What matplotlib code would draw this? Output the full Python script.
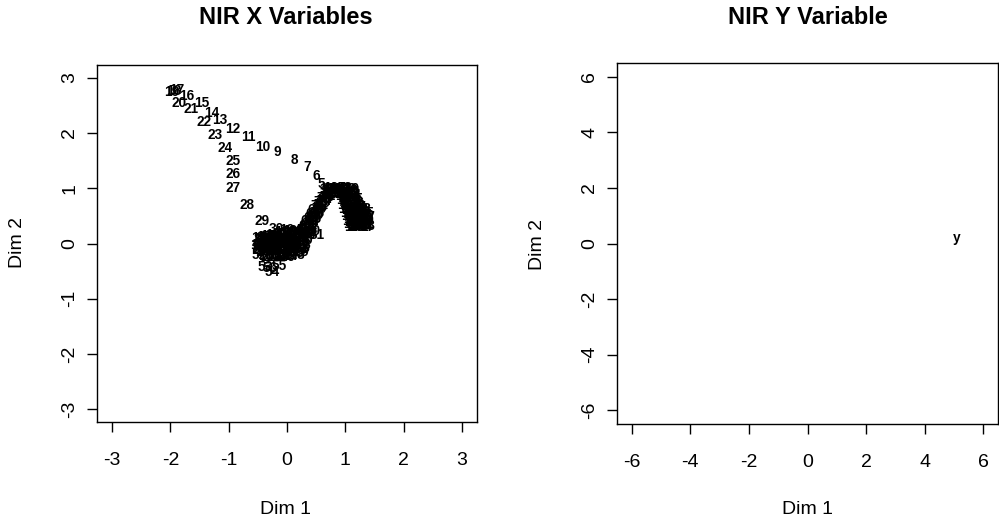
import matplotlib
matplotlib.use('Agg')
import matplotlib.pyplot as plt

plt.rcParams['font.family'] = ['Liberation Sans', 'DejaVu Sans']
plt.rcParams['axes.unicode_minus'] = False

# ---- data: variable coordinates on Dim 1 / Dim 2 ----
# 1..56 : arc start, the long visible trail, left lower blob, bottom stragglers
path_x = [0.95, 0.86, 0.77, 0.68, 0.59, 0.50, 0.34, 0.125, -0.16, -0.41,
          -0.66, -0.93, -1.15, -1.29, -1.46, -1.72, -1.90, -1.95, -1.97, -1.86,
          -1.65, -1.43, -1.24, -1.07, -0.93, -0.93, -0.92, -0.69, -0.42, -0.19,
          -0.12, -0.20, -0.28, -0.36, -0.44, -0.40, -0.32, -0.24, -0.16, -0.08,
          0.00, 0.04, -0.04, -0.12, -0.20, -0.28, -0.36, -0.44, -0.48, -0.46,
          -0.40, -0.48, -0.38, -0.25, -0.14, -0.28]
path_y = [0.97, 0.98, 0.99, 1.00, 1.07, 1.22, 1.38, 1.52, 1.66, 1.75,
          1.93, 2.08, 2.23, 2.37, 2.54, 2.66, 2.77, 2.76, 2.74, 2.55,
          2.43, 2.20, 1.97, 1.72, 1.50, 1.25, 1.01, 0.69, 0.41, 0.26,
          0.18, 0.14, 0.12, 0.10, 0.08, 0.02, 0.04, 0.06, 0.08, 0.10,
          0.12, 0.04, 0.00, -0.02, -0.03, -0.04, -0.05, -0.06, 0.00, -0.10,
          -0.14, -0.20, -0.43, -0.51, -0.41, -0.45]

# rising band
band_x = [0.22, 0.28, 0.30, 0.36, 0.33, 0.39, 0.37, 0.43, 0.41, 0.47,
          0.45, 0.51, 0.49, 0.54, 0.53, 0.59, 0.58, 0.64, 0.63, 0.69,
          0.68, 0.74, 0.72, 0.44, 0.52, 0.40, 0.35, 0.41, 0.46, 0.50,
          0.55, 0.57, 0.62, 0.66, 0.71, 0.76, 0.31, 0.26, 0.36]
band_y = [0.14, 0.16, 0.24, 0.26, 0.32, 0.34, 0.40, 0.42, 0.47, 0.49,
          0.54, 0.56, 0.61, 0.63, 0.68, 0.70, 0.75, 0.77, 0.82, 0.84,
          0.89, 0.90, 0.95, 0.22, 0.15, 0.20, 0.29, 0.37, 0.44, 0.52,
          0.59, 0.66, 0.73, 0.80, 0.86, 0.93, 0.19, 0.10, 0.16]

# top of the arch
arc_x = [0.78, 0.84, 0.90, 0.96, 1.02, 1.07, 0.80, 0.87, 0.94, 1.00,
         0.74, 0.82, 0.92, 0.98, 1.05, 0.76, 1.06]
arc_y = [0.96, 0.97, 0.97, 0.97, 0.96, 0.94, 0.90, 0.91, 0.91, 0.90,
         0.99, 1.00, 1.00, 0.99, 0.98, 0.92, 0.90]

# descending leg and right blob
right_x = [1.02, 1.06, 1.03, 1.08, 1.05, 1.10, 1.07, 1.13, 1.10, 1.16,
           1.12, 1.20, 1.26, 1.28, 1.22, 1.15, 1.18, 1.25, 1.30, 1.22,
           1.18, 1.26, 1.29, 1.23, 1.17, 1.20, 1.14, 1.30, 1.27, 1.21,
           1.04, 1.08, 1.10, 1.12, 1.16, 1.24, 1.14, 1.19, 1.25, 1.20,
           1.14, 1.16, 1.24, 1.28, 1.32, 1.31, 1.23, 1.19]
right_y = [0.86, 0.82, 0.78, 0.74, 0.70, 0.67, 0.63, 0.60, 0.56, 0.54,
           0.50, 0.50, 0.52, 0.46, 0.44, 0.45, 0.39, 0.40, 0.36, 0.34,
           0.30, 0.30, 0.55, 0.57, 0.58, 0.63, 0.70, 0.42, 0.34, 0.29,
           0.90, 0.88, 0.80, 0.74, 0.66, 0.62, 0.62, 0.55, 0.48, 0.47,
           0.40, 0.35, 0.36, 0.40, 0.48, 0.31, 0.31, 0.42]

# later variables falling back into the lower blob
low_x = [-0.38, -0.30, -0.22, -0.14, -0.06, 0.02, 0.10, 0.16, 0.08, 0.00,
         -0.34, -0.26, -0.18, -0.10, -0.02, 0.06, 0.14, 0.20, 0.18, 0.24,
         -0.30, -0.20, -0.10, 0.00, 0.10, 0.14, -0.36,
         -0.42, -0.34, -0.26, -0.18, -0.10, -0.02, 0.06, 0.12,
         -0.44, -0.36, -0.28, -0.20, -0.12, -0.04, 0.04, 0.12, 0.20,
         -0.40, -0.32, -0.24, -0.16, -0.08, 0.00, 0.08, 0.16, 0.22,
         -0.26, -0.16, -0.06, 0.04, 0.12, 0.18]
low_y = [0.06, 0.06, 0.08, 0.06, 0.06, 0.08, 0.12, 0.18, 0.20, 0.18,
         -0.08, -0.10, -0.08, -0.06, -0.05, -0.04, -0.06, -0.08, 0.02, 0.06,
         -0.22, -0.21, -0.20, -0.19, -0.17, -0.12, -0.16,
         0.10, 0.12, 0.14, 0.16, 0.16, 0.20, 0.24, 0.22,
         -0.02, 0.00, 0.00, 0.02, 0.02, 0.02, 0.00, 0.02, 0.08,
         -0.12, -0.14, -0.14, -0.12, -0.10, -0.09, -0.08, -0.10, -0.02,
         -0.24, -0.24, -0.24, -0.23, -0.20, -0.16]

# response variable
y_x = [5.1]
y_y = [0.2]
y_names = ['y']

x_vals = path_x + band_x + arc_x + right_x + low_x
y_vals = path_y + band_y + arc_y + right_y + low_y
x_names = [str(i + 1) for i in range(len(x_vals))]

X_TICKS = [-3, -2, -1, 0, 1, 2, 3]
Y_TICKS = [-6, -4, -2, 0, 2, 4, 6]

W, H = 999, 522
FS_TICK = 14
FS_LAB = 14
FS_TITLE = 17
FS_PT = 9.8


def _style(ax):
    for s in ax.spines.values():
        s.set_linewidth(1.0)
        s.set_color('black')
    ax.tick_params(axis='both', direction='out', length=7.5, width=1.0,
                   labelsize=FS_TICK, colors='black')
    ax.tick_params(axis='x', pad=14)
    ax.tick_params(axis='y', pad=6)
    for lab in ax.get_yticklabels():
        lab.set_rotation(90)
        lab.set_va('center')


fig = plt.figure(figsize=(W / 100, H / 100), dpi=100)
fig.patch.set_facecolor('white')

# left panel
ax1 = fig.add_axes([97 / W, 1 - 422 / H, 380 / W, 357 / H])
for x, y, t in zip(x_vals, y_vals, x_names):
    ax1.text(x, y, t, ha='center', va='center', fontsize=FS_PT,
             fontweight='bold', color='black')
ax1.set_xlim(-3.26, 3.26)
ax1.set_ylim(-3.23, 3.23)
ax1.set_xticks(X_TICKS)
ax1.set_yticks(X_TICKS)
_style(ax1)

# right panel
ax2 = fig.add_axes([617 / W, 1 - 424 / H, 381 / W, 361 / H])
for x, y, t in zip(y_x, y_y, y_names):
    ax2.text(x, y, t, ha='center', va='center', fontsize=FS_PT,
             fontweight='bold', color='black')
ax2.set_xlim(-6.5, 6.5)
ax2.set_ylim(-6.5, 6.5)
ax2.set_xticks(Y_TICKS)
ax2.set_yticks(Y_TICKS)
_style(ax2)

fig.text(286 / W, 1 - 18 / H, 'NIR X Variables', ha='center', va='center',
         fontsize=FS_TITLE, fontweight='bold')
fig.text(808 / W, 1 - 17 / H, 'NIR Y Variable', ha='center', va='center',
         fontsize=FS_TITLE, fontweight='bold')
fig.text(286 / W, 1 - 510 / H, 'Dim 1', ha='center', va='center', fontsize=FS_LAB)
fig.text(808 / W, 1 - 510 / H, 'Dim 1', ha='center', va='center', fontsize=FS_LAB)
fig.text(17.5 / W, 1 - 243 / H, 'Dim 2', ha='center', va='center',
         fontsize=FS_LAB, rotation=90)
fig.text(537 / W, 1 - 244 / H, 'Dim 2', ha='center', va='center',
         fontsize=FS_LAB, rotation=90)

fig.savefig('out.png', dpi=100, facecolor='white')
